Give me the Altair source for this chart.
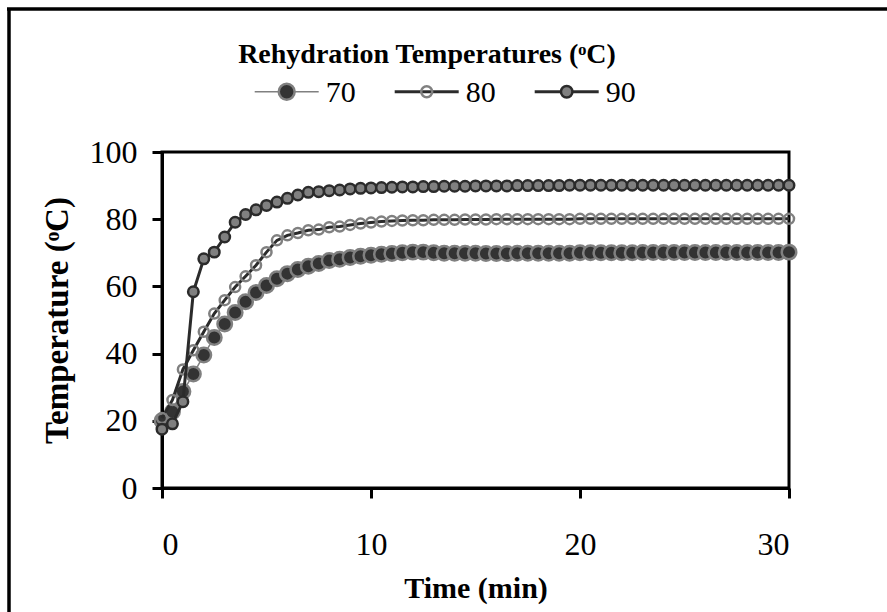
import altair as alt
import pandas as pd

# ---------------- data ----------------
time_min = [0, 0.5, 1, 1.5, 2, 2.5, 3, 3.5, 4, 4.5, 5, 5.5, 6, 6.5, 7, 7.5, 8, 8.5, 9, 9.5,
            10, 10.5, 11, 11.5, 12, 12.5, 13, 13.5, 14, 14.5, 15, 15.5, 16, 16.5, 17, 17.5,
            18, 18.5, 19, 19.5, 20, 20.5, 21, 21.5, 22, 22.5, 23, 23.5, 24, 24.5, 25, 25.5,
            26, 26.5, 27, 27.5, 28, 28.5, 29, 29.5, 30]

temp_70 = [20.0, 22.7, 28.7, 33.9, 39.6, 44.8, 48.8, 52.2, 55.4, 58.2, 60.3, 62.3, 63.8, 65.0,
           66.0, 66.8, 67.7, 68.1, 68.6, 69.0, 69.3, 69.6, 69.8, 70.0, 70.2, 70.2, 70.0, 69.9,
           69.9, 69.9, 69.9, 69.8, 69.8, 69.8, 69.9, 69.9, 69.9, 69.9, 69.9, 69.9, 70.0, 70.0,
           70.0, 70.0, 70.0, 70.0, 70.1, 70.1, 70.1, 70.1, 70.1, 70.1, 70.1, 70.1, 70.1, 70.1,
           70.1, 70.1, 70.1, 70.1, 70.2]

temp_80 = [20.8, 26.2, 35.3, 41.0, 46.5, 51.9, 55.9, 59.8, 63.0, 66.3, 70.2, 73.7, 75.2, 75.9,
           76.7, 76.9, 77.6, 77.8, 78.3, 78.7, 79.0, 79.3, 79.5, 79.6, 79.7, 79.7, 79.8, 79.8,
           79.8, 79.9, 79.9, 79.9, 80.0, 80.0, 80.0, 80.0, 80.0, 80.0, 80.0, 80.0, 80.1, 80.1,
           80.1, 80.1, 80.1, 80.1, 80.1, 80.1, 80.1, 80.1, 80.1, 80.1, 80.1, 80.1, 80.1, 80.1,
           80.1, 80.1, 80.1, 80.1, 80.1]

temp_90 = [17.5, 19.1, 25.7, 58.4, 68.2, 70.2, 74.7, 79.1, 81.4, 82.8, 84.1, 85.1, 86.2, 87.2,
           88.0, 88.2, 88.5, 88.7, 89.0, 89.2, 89.3, 89.4, 89.5, 89.6, 89.6, 89.7, 89.7, 89.8,
           89.8, 89.8, 89.9, 89.9, 89.9, 89.9, 90.0, 90.0, 90.0, 90.0, 90.0, 90.1, 90.1, 90.1,
           90.1, 90.1, 90.1, 90.1, 90.1, 90.1, 90.1, 90.1, 90.1, 90.1, 90.1, 90.1, 90.1, 90.1,
           90.1, 90.1, 90.1, 90.1, 90.1]

series_names = ["70", "80", "90"]
x_ticks = [0, 10, 20, 30]
y_ticks = [0, 20, 40, 60, 80, 100]

legend_title = "Rehydration Temperatures (ᵒC)"
x_title = "Time (min)"
y_title = "Temperature (ᵒC)"

# ---------------- build table ----------------
rows = []
for name, vals in zip(series_names, [temp_70, temp_80, temp_90]):
    for t, v in zip(time_min, vals):
        rows.append({"series": name, "time": t, "temp": v})
df = pd.DataFrame(rows)

FONT = "Liberation Serif"
DARK = "#2b2b2b"
GRAY = "#808080"

styles = {
    "70": dict(line=GRAY, lw=1.5, fill="#333333", stroke=GRAY, size=210),
    "80": dict(line=DARK, lw=3, fill="transparent", stroke=GRAY, size=100),
    "90": dict(line=DARK, lw=3, fill=GRAY, stroke=DARK, size=110),
}

W, H = 627, 336

x_enc = alt.X("time:Q", scale=alt.Scale(domain=[0, 30], nice=False),
              axis=alt.Axis(values=x_ticks, title=x_title, grid=False,
                            labelFont=FONT, labelFontSize=32, labelColor="black",
                            labelPadding=31, tickSize=10, tickWidth=3, tickColor="black",
                            domainColor="black", domainWidth=3,
                            titleFont=FONT, titleFontSize=30, titleFontWeight="bold",
                            titleColor="black", titleX=W / 2, titleY=100,
                            titleBaseline="middle", titleAlign="center"))
y_enc = alt.Y("temp:Q", scale=alt.Scale(domain=[0, 100], nice=False),
              axis=alt.Axis(values=y_ticks, title=y_title, grid=False,
                            labelFont=FONT, labelFontSize=32, labelColor="black",
                            labelPadding=15, tickSize=10, tickWidth=3, tickColor="black",
                            domainColor="black", domainWidth=3,
                            titleFont=FONT, titleFontSize=33, titleFontWeight="bold",
                            titleColor="black", titleX=-105, titleY=H / 2,
                            titleBaseline="middle", titleAlign="center"))

layers = []
for name in series_names:
    s = styles[name]
    base = alt.Chart(df).transform_filter(alt.datum.series == name).encode(x=x_enc, y=y_enc)
    layers.append(base.mark_line(color=s["line"], strokeWidth=s["lw"]))
    layers.append(base.mark_point(shape="circle", filled=True, fill=s["fill"], stroke=s["stroke"],
                                  strokeWidth=2.5, size=s["size"], opacity=1))

# ---------------- manual legend ----------------
one = pd.DataFrame({"k": [0]})
leg_y = -60.3
for i, name in enumerate(series_names):
    s = styles[name]
    cx = 124.7 + 140 * i
    layers.append(alt.Chart(one).mark_rule(color=s["line"], strokeWidth=s["lw"]).encode(
        x=alt.value(cx - 32), x2=alt.value(cx + 32), y=alt.value(leg_y)))
    layers.append(alt.Chart(one).mark_point(shape="circle", filled=True, fill=s["fill"],
                                            stroke=s["stroke"], strokeWidth=2.5,
                                            size=s["size"] * 1.2, opacity=1).encode(
        x=alt.value(cx), y=alt.value(leg_y)))
    layers.append(alt.Chart(one).mark_text(align="left", baseline="alphabetic", font=FONT,
                                           fontSize=30, color="black").encode(
        x=alt.value(cx + 39), y=alt.value(-50.3), text=alt.value(name)))

layers.append(alt.Chart(one).mark_text(align="center", baseline="alphabetic", font=FONT,
                                       fontSize=28, fontWeight="bold", color="black").encode(
    x=alt.value(265), y=alt.value(-88.7), text=alt.value(legend_title)))

# outer frame (left and top edges visible)
layers.append(alt.Chart(one).mark_rule(color="black", strokeWidth=3.5).encode(
    x=alt.value(-153), y=alt.value(-143), y2=alt.value(480)))
layers.append(alt.Chart(one).mark_rule(color="black", strokeWidth=3.5).encode(
    x=alt.value(-155), x2=alt.value(740), y=alt.value(-143)))

chart = alt.layer(*layers).properties(
    width=W, height=H,
    autosize=alt.AutoSizeParams(type="none"),
    padding={"left": 162, "top": 152, "right": 98, "bottom": 124},
    background="white",
).configure_view(stroke="black", strokeWidth=3)

chart.save("out.html", embed_options={"renderer": "svg", "actions": False})
